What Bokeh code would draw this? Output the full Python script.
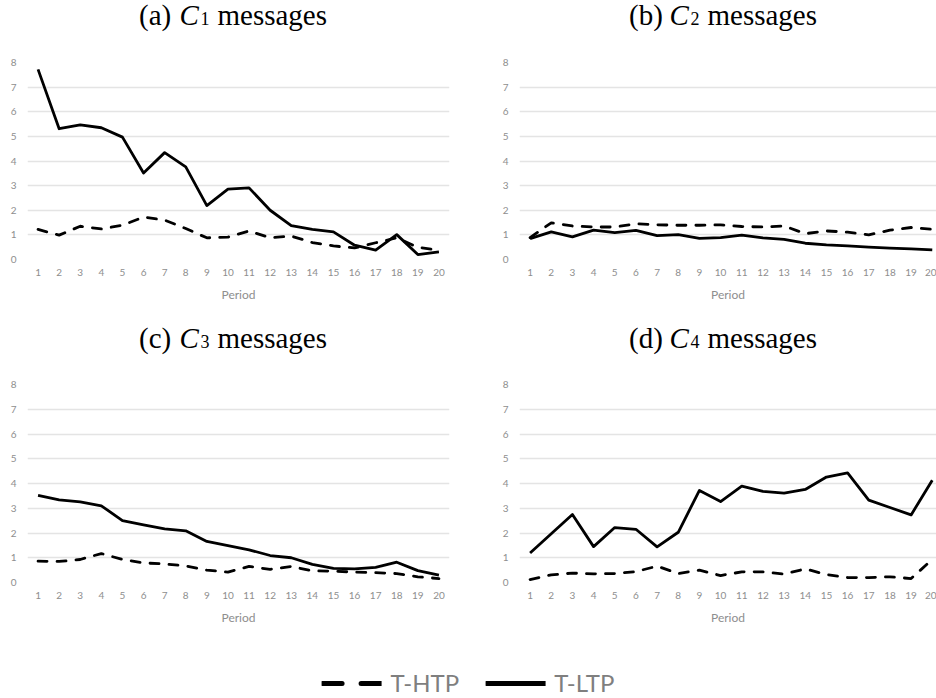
from bokeh.plotting import figure
from bokeh.layouts import column, row
from bokeh.models import Range1d, FixedTicker, Legend, LegendItem
from bokeh.core.properties import value
from bokeh.embed import file_html
from bokeh.resources import INLINE

periods = list(range(1, 21))
y_ticks = list(range(0, 9))

# panel titles: "(a) C_1 messages" etc.
title_tags = ["(a)", "(b)", "(c)", "(d)"]
title_symbol = "C"
title_subs = ["1", "2", "3", "4"]
title_word = "messages"

# T-LTP (solid) and T-HTP (dashed) values per panel
c1_ltp = [7.72, 5.31, 5.47, 5.35, 4.97, 3.51, 4.34, 3.76, 2.19, 2.86, 2.91, 2.00, 1.38, 1.22, 1.12, 0.58, 0.38, 1.01, 0.20, 0.31]
c1_htp = [1.22, 0.99, 1.35, 1.24, 1.39, 1.72, 1.60, 1.26, 0.88, 0.91, 1.16, 0.88, 0.95, 0.69, 0.55, 0.47, 0.68, 0.88, 0.49, 0.38]

c2_ltp = [0.85, 1.12, 0.92, 1.19, 1.09, 1.18, 0.97, 1.01, 0.86, 0.89, 0.99, 0.88, 0.82, 0.66, 0.59, 0.55, 0.50, 0.46, 0.43, 0.39]
c2_htp = [0.89, 1.49, 1.36, 1.32, 1.32, 1.45, 1.41, 1.39, 1.39, 1.41, 1.34, 1.32, 1.36, 1.05, 1.16, 1.11, 1.00, 1.19, 1.30, 1.23]

c3_ltp = [3.52, 3.34, 3.26, 3.10, 2.50, 2.33, 2.17, 2.09, 1.66, 1.49, 1.32, 1.09, 1.00, 0.73, 0.57, 0.55, 0.61, 0.82, 0.48, 0.30]
c3_htp = [0.86, 0.85, 0.93, 1.17, 0.93, 0.79, 0.75, 0.67, 0.50, 0.42, 0.65, 0.53, 0.65, 0.47, 0.46, 0.42, 0.40, 0.36, 0.23, 0.16]

c4_ltp = [1.19, 1.97, 2.75, 1.45, 2.22, 2.15, 1.44, 2.03, 3.72, 3.27, 3.89, 3.68, 3.61, 3.76, 4.26, 4.43, 3.33, 3.03, 2.73, 4.13]
c4_htp = [0.12, 0.31, 0.38, 0.35, 0.36, 0.44, 0.66, 0.36, 0.50, 0.28, 0.43, 0.43, 0.34, 0.55, 0.32, 0.20, 0.20, 0.23, 0.16, 0.93]

series_names = ["T-HTP", "T-LTP"]

TICK_COLOR = "#8e8e8e"
GRID_COLOR = "#e4e4e4"
DASH = "9 10"
LW = 2.8
W = 468
SERIF = value("Liberation Serif")


def bare(width, height):
    p = figure(width=width, height=height, output_backend="svg", toolbar_location=None,
               x_range=Range1d(0, width), y_range=Range1d(0, height),
               min_border_left=0, min_border_right=0, min_border_top=0, min_border_bottom=0)
    p.xaxis.visible = False
    p.yaxis.visible = False
    p.xgrid.visible = False
    p.ygrid.visible = False
    p.outline_line_color = None
    return p


def title_strip(i, left, base_y, height=40):
    # left: x of the opening parenthesis; the pieces follow it
    t = bare(W, height)
    x_c = left + 40.5
    x_sub = left + 61.5
    x_word = left + 78.5
    t.text(x=[left], y=[base_y], text=[title_tags[i]], text_font=SERIF,
           text_font_size="29px", text_color="black", text_align="left",
           text_baseline="alphabetic")
    t.text(x=[x_c], y=[base_y], text=[title_symbol], text_font=SERIF,
           text_font_size="29px", text_font_style="italic", text_color="black",
           text_align="left", text_baseline="alphabetic")
    t.text(x=[x_sub], y=[base_y - 4], text=[title_subs[i]], text_font=SERIF,
           text_font_size="18px", text_color="black", text_align="left",
           text_baseline="alphabetic")
    t.text(x=[x_word], y=[base_y], text=[title_word], text_font=SERIF,
           text_font_size="29px", text_color="black", text_align="left",
           text_baseline="alphabetic")
    return t


def panel(ltp, htp, height, bl, br, bt, bb, x_end, frame_h):
    p = figure(width=W, height=height, output_backend="svg", toolbar_location=None,
               x_range=Range1d(0.5, x_end), y_range=Range1d(0, 8),
               min_border_left=bl, min_border_right=br, min_border_top=bt, min_border_bottom=bb,
               frame_width=W - bl - br, frame_height=frame_h)
    p.outline_line_color = None
    p.xgrid.grid_line_color = None
    p.ygrid.grid_line_color = GRID_COLOR
    p.ygrid.grid_line_width = 1.5
    p.xaxis.ticker = FixedTicker(ticks=periods)
    p.yaxis.ticker = FixedTicker(ticks=y_ticks)
    for ax in (p.xaxis[0], p.yaxis[0]):
        ax.axis_line_color = None
        ax.major_tick_line_color = None
        ax.minor_tick_line_color = None
        ax.major_tick_out = 0
        ax.major_tick_in = 0
        ax.major_label_text_font = "Lato"
        ax.major_label_text_color = TICK_COLOR
        ax.major_label_text_font_size = "10px"
    p.yaxis.major_label_standoff = 11
    p.xaxis.major_label_standoff = 9
    p.xaxis.axis_label = "Period"
    p.xaxis.axis_label_text_font = "Lato"
    p.xaxis.axis_label_text_font_style = "normal"
    p.xaxis.axis_label_text_font_size = "12px"
    p.xaxis.axis_label_text_color = TICK_COLOR
    p.xaxis.axis_label_standoff = 8
    p.line(periods, htp, line_color="black", line_width=LW, line_dash=DASH,
           line_cap="round", line_join="round")
    p.line(periods, ltp, line_color="black", line_width=LW, line_join="round")
    return p


ta = title_strip(0, 138.5, 26)
tb = title_strip(1, 160.5, 26)
pa = panel(c1_ltp, c1_htp, 280, 27, 19, 22, 61, 20.5, 197)
pb = panel(c2_ltp, c2_htp, 280, 51, 0, 22, 61, 20.2, 197)
tc = title_strip(2, 138.5, 23)
td = title_strip(3, 160.5, 23)
pc = panel(c3_ltp, c3_htp, 290, 27, 19, 24, 68, 20.5, 198)
pd = panel(c4_ltp, c4_htp, 290, 51, 0, 24, 68, 20.2, 198)

# legend strip
lg = bare(936, 48)
nan = float("nan")
r_h = lg.line([nan], [nan], line_color="black", line_width=5, line_dash="20 19", line_cap="round")
r_l = lg.line([nan], [nan], line_color="black", line_width=5, line_cap="round")
legend = Legend(items=[LegendItem(label=series_names[0], renderers=[r_h]),
                       LegendItem(label=series_names[1], renderers=[r_l])],
                orientation="horizontal", location="bottom_center",
                label_text_font="Lato", label_text_font_size="24px", label_text_color="#7f7f7f",
                glyph_width=60, glyph_height=20, label_standoff=9, spacing=26,
                padding=0, margin=1, border_line_color=None, background_fill_alpha=0)
lg.add_layout(legend, "center")

layout = column(row(ta, tb, spacing=0), row(pa, pb, spacing=0),
                row(tc, td, spacing=0), row(pc, pd, spacing=0), lg, spacing=0)

open("out.html", "w").write(file_html(layout, INLINE))
